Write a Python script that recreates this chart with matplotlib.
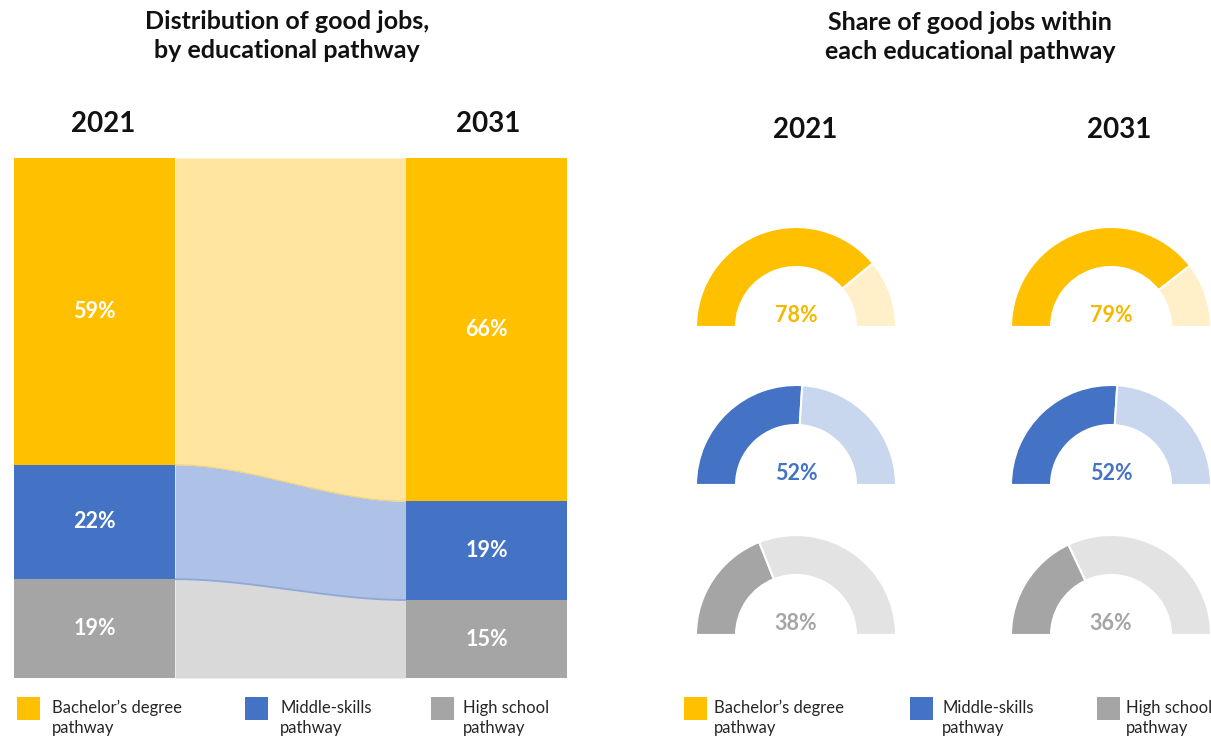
import matplotlib
matplotlib.use("Agg")
import matplotlib.pyplot as plt
import numpy as np
from matplotlib.patches import Rectangle

plt.rcParams['font.family'] = ['Lato', 'DejaVu Sans']

years = ["2021", "2031"]
pathways = ["Bachelor’s degree\npathway", "Middle-skills\npathway", "High school\npathway"]
# distribution of good jobs by pathway, listed top to bottom of the stack
dist_2021 = [59, 22, 19]
dist_2031 = [66, 19, 15]
# share of jobs within each pathway that are good jobs
within_2021 = [78, 52, 38]
within_2031 = [79, 52, 36]

main_colors = ["#FFC000", "#4472C4", "#A5A5A5"]
flow_colors = ["#FFE5A0", "#AEC2E8", "#D9D9D9"]
light_colors = ["#FFF0C9", "#C8D6EE", "#E3E3E3"]
label_colors = ["#F5B800", "#4472C4", "#A5A5A5"]

W, H = 1211, 739
fig = plt.figure(figsize=(W / 100, H / 100), dpi=100)


def px_axes(x0, y0, x1, y1):
    return fig.add_axes([x0 / W, 1 - y1 / H, (x1 - x0) / W, (y1 - y0) / H])


def ftext(x, y, s, **kw):
    fig.text(x / W, 1 - y / H, s, **kw)


def stack_bottoms(vals):
    rev = np.array(vals[::-1])
    bottoms = np.concatenate([[0], np.cumsum(rev)[:-1]])
    return bottoms[::-1]


# ---- left panel: stacked bars with flows ----
bar_w = 161 / 392
ax = px_axes(14, 158, 567, 678)
ax.set_xlim(-bar_w / 2, 1 + bar_w / 2)
ax.set_ylim(0, 100)
ax.axis('off')

b21 = stack_bottoms(dist_2021)
b31 = stack_bottoms(dist_2031)
xs = np.linspace(bar_w / 2, 1 - bar_w / 2, 200)
t = (xs - xs[0]) / (xs[-1] - xs[0])
s = 3 * t ** 2 - 2 * t ** 3
for i in range(3):
    lo = b21[i] + (b31[i] - b21[i]) * s
    hi = (b21[i] + dist_2021[i]) + ((b31[i] + dist_2031[i]) - (b21[i] + dist_2021[i])) * s
    ax.fill_between(xs, lo, hi, color=flow_colors[i], lw=0, zorder=1)
    if i == 1:
        ax.plot(xs, lo, color="#8FA7D9", lw=1.3, zorder=2)
    if i == 0:
        ax.plot(xs, lo, color="#F4D27A", lw=0.8, zorder=2)

for j, (vals, bots) in enumerate([(dist_2021, b21), (dist_2031, b31)]):
    for i in range(3):
        ax.bar(j, vals[i], bottom=bots[i], width=bar_w, color=main_colors[i],
               lw=0, zorder=3)
        ax.text(j, bots[i] + vals[i] / 2, f"{vals[i]}%", ha='center', va='center',
                color='white', fontsize=15.5, fontweight='bold', zorder=4)

# ---- right panel: half donuts ----
donut_cx = [796, 1111]
donut_cy = [327, 485, 635]
R = 100
for j, vals in enumerate([within_2021, within_2031]):
    for i in range(3):
        cx, cy = donut_cx[j], donut_cy[i]
        dax = px_axes(cx - R, cy - R, cx + R, cy + R)
        dax.pie([vals[i], 100 - vals[i], 100],
                colors=[main_colors[i], light_colors[i], 'none'],
                startangle=180, counterclock=False, radius=1,
                wedgeprops=dict(width=0.4, edgecolor='white', linewidth=1.5))
        dax.set_xlim(-1, 1)
        dax.set_ylim(-1, 1)
        dax.axis('off')
        dax.text(0, 0.11, f"{vals[i]}%", ha='center', va='center',
                 color=label_colors[i], fontsize=15.5, fontweight='bold')

# ---- titles and year headers ----
ftext(287, 36, "Distribution of good jobs,\nby educational pathway", ha='center',
      va='center', fontsize=18, fontweight='bold', linespacing=1.3, color='#111111')
ftext(970, 37, "Share of good jobs within\neach educational pathway", ha='center',
      va='center', fontsize=18, fontweight='bold', linespacing=1.3, color='#111111')
for x, y, yr in [(103, 124, years[0]), (488, 124, years[1]),
                 (805, 130, years[0]), (1119, 130, years[1])]:
    ftext(x, y, yr, ha='center', va='center', fontsize=20, fontweight='bold',
          color='#111111')

# ---- legends ----
legend_rows = [([17, 245, 431], [52, 280, 463]), ([684, 910, 1097], [714, 942, 1126])]
for sq_x, tx_x in legend_rows:
    for i in range(3):
        fig.patches.append(Rectangle((sq_x[i] / W, 1 - 720 / H), 23 / W, 23 / H,
                                     transform=fig.transFigure, color=main_colors[i],
                                     lw=0))
        ftext(tx_x[i], 718, pathways[i], ha='left', va='center', fontsize=12,
              linespacing=1.35, color='#262626')

fig.savefig("out.png", dpi=100, facecolor='white')
